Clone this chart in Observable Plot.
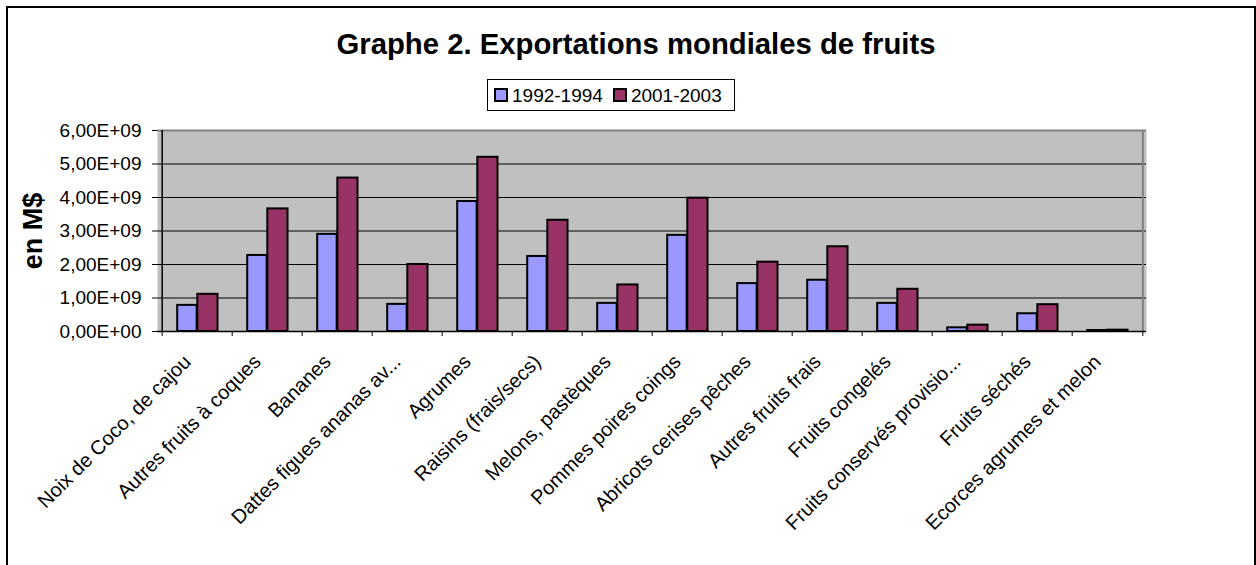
<!DOCTYPE html>
<html>
<head>
<meta charset="utf-8">
<script src="https://cdn.jsdelivr.net/npm/d3@7"></script>
<script src="https://cdn.jsdelivr.net/npm/@observablehq/plot@0.6"></script>
<style>
  html, body { margin: 0; padding: 0; background: #fff; }
  body { width: 1256px; height: 565px; position: relative; overflow: hidden;
         font-family: "Liberation Sans", Arial, sans-serif; }
  #frame { position: absolute; left: 6px; top: 6px; width: 1246px; height: 600px;
           border: 2px solid #000; border-bottom: none; }
  #title { position: absolute; left: 36px; width: 1200px; top: 29px; text-align: center;
           font-size: 29.3px; line-height: 29px; font-weight: bold; color: #000; }
  #legend { position: absolute; left: 487px; top: 79px; width: 246px; height: 30px;
            border: 1px solid #000; background: #fff; display: flex; align-items: center;
            box-sizing: content-box; font-size: 19px; line-height: 19px; }
  .item { display: flex; align-items: center; }
  .sw { width: 10px; height: 10px; border: 2px solid #000; margin-right: 4px; }
  #chart { position: absolute; left: 0; top: 120px; }
</style>
</head>
<body>
<div id="frame"></div>
<div id="title"></div>
<div id="legend"></div>
<div id="chart"></div>
<script>
const titleText = "Graphe 2. Exportations mondiales de fruits";
const yLabel = "en M$";
const categories = [
  "Noix de Coco, de cajou", "Autres fruits à coques", "Bananes", "Dattes figues ananas av...",
  "Agrumes", "Raisins (frais/secs)", "Melons, pastèques", "Pommes poires coings",
  "Abricots cerises pêches", "Autres fruits frais", "Fruits congelés", "Fruits conservés provisio...",
  "Fruits séchés", "Ecorces agrumes et melon"
];
const series = ["1992-1994", "2001-2003"];
const values1992 = [0.78e9, 2.27e9, 2.90e9, 0.81e9, 3.88e9, 2.24e9, 0.84e9, 2.87e9, 1.43e9, 1.53e9, 0.84e9, 0.11e9, 0.53e9, 0.03e9];
const values2001 = [1.11e9, 3.66e9, 4.58e9, 2.00e9, 5.20e9, 3.32e9, 1.39e9, 3.98e9, 2.07e9, 2.53e9, 1.26e9, 0.19e9, 0.80e9, 0.04e9];
const yTicks = [0, 1e9, 2e9, 3e9, 4e9, 5e9, 6e9];
const colors = ["#9999FF", "#993366"];

document.getElementById("title").textContent = titleText;
const legend = document.getElementById("legend");
series.forEach((s, i) => {
  const it = document.createElement("div");
  it.className = "item";
  it.style.marginLeft = i === 0 ? "6px" : "10px";
  const sw = document.createElement("div");
  sw.className = "sw";
  sw.style.background = colors[i];
  const t = document.createElement("span");
  t.textContent = s;
  it.appendChild(sw); it.appendChild(t);
  legend.appendChild(it);
});

const rows1 = categories.map((c, i) => ({cat: c, series: series[0], value: values1992[i]}));
const rows2 = categories.map((c, i) => ({cat: c, series: series[1], value: values2001[i]}));

function fmt(d) {
  if (d === 0) return "0,00E+00";
  const [m, e] = d.toExponential(2).split("e");
  const n = +e;
  return m.replace(".", ",") + "E" + (n < 0 ? "-" : "+") + String(Math.abs(n)).padStart(2, "0");
}

const W = 1256, H = 445, mL = 157, mR = 110, mT = 10, mB = 234;
const bw = (W - mL - mR) / categories.length;
const first = categories[0], last = categories[categories.length - 1];

const chart = Plot.plot({
  width: W, height: H,
  marginLeft: mL, marginRight: mR, marginTop: mT, marginBottom: mB,
  style: {fontFamily: "'Liberation Sans', Arial, sans-serif", fontSize: "18px", color: "#000", background: "transparent", overflow: "visible"},
  x: {type: "band", domain: categories, padding: 0, axis: null},
  y: {domain: [0, 6e9], axis: null},
  color: {domain: series, range: colors},
  marks: [
    Plot.frame({fill: "#C0C0C0"}),
    Plot.ruleY(yTicks.slice(1, -1), {stroke: "#000", strokeWidth: 1}),
    Plot.ruleY([yTicks[yTicks.length - 1]], {stroke: "#808080", strokeWidth: 2}),
    Plot.ruleX([last], {dx: bw / 2, stroke: "#808080", strokeWidth: 2}),
    Plot.barY(rows1, {x: "cat", y: "value", fill: "series", stroke: "#000", strokeWidth: 2,
      insetLeft: bw * 0.215, insetRight: bw * 0.5}),
    Plot.barY(rows2, {x: "cat", y: "value", fill: "series", stroke: "#000", strokeWidth: 2,
      insetLeft: bw * 0.5, insetRight: bw * 0.205}),
    Plot.ruleY([0], {stroke: "#000", strokeWidth: 1.5}),
    Plot.ruleX([first], {dx: -bw / 2, stroke: "#000", strokeWidth: 1.5}),
    Plot.axisY({ticks: yTicks, tickSize: 5, tickPadding: 11, tickFormat: fmt, fontSize: 19, label: null}),
    Plot.axisX({tickSize: 5, dx: -bw / 2, tickFormat: () => "", label: null}),
    Plot.axisX({ticks: [last], tickSize: 5, dx: bw / 2, tickFormat: () => "", label: null}),
    Plot.axisX({tickSize: 0, tickPadding: 10, tickRotate: -45, fontSize: 20, dx: -10, dy: 17, label: null}),
    Plot.text([yLabel], {text: d => d, frameAnchor: "left", textAnchor: "middle", dx: -124, rotate: -90,
      fontSize: 27, fontWeight: "bold"})
  ]
});
document.getElementById("chart").appendChild(chart);
</script>
</body>
</html>
